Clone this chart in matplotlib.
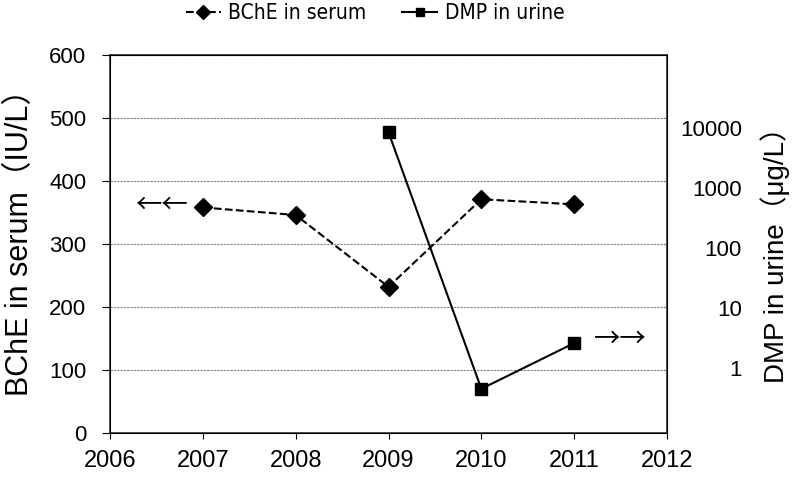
import numpy as np
import matplotlib.pyplot as plt
from matplotlib.ticker import FixedLocator, NullLocator

plt.rcParams['font.family'] = ['Liberation Sans', 'Noto Sans CJK JP', 'DejaVu Sans']

years = [2007, 2008, 2009, 2010, 2011]
bche = [358, 346, 232, 371, 363]
dmp_years = [2009, 2010, 2011]
dmp = [8500, 0.45, 2.6]

left_ticks = [0, 100, 200, 300, 400, 500, 600]
right_ticks = [1, 10, 100, 1000, 10000]
x_ticks = [2006, 2007, 2008, 2009, 2010, 2011, 2012]

fig = plt.figure(figsize=(7.93, 4.79), dpi=100)
ax = fig.add_axes([110/793, 46/479, 557/793, 378/479])

l1, = ax.plot(years, bche, '--', color='black', lw=1.5, marker='D', markersize=9,
              label='BChE in serum')
ax.set_xlim(2006, 2012)
ax.set_ylim(0, 600)
ax.set_xticks(x_ticks)
ax.set_yticks(left_ticks)
ax.yaxis.grid(True, linestyle=(0, (2, 1)), color='#808080', lw=0.8)
ax.set_axisbelow(True)
ax.tick_params(axis='y', labelsize=16, direction='out', length=6, pad=11)
ax.tick_params(axis='x', labelsize=17, direction='out', length=4, pad=8)
for s in ax.spines.values():
    s.set_color('#303030')
    s.set_linewidth(1.2)
ax.set_ylabel('BChE in serum（IU/L）', fontsize=22)
ax.yaxis.label.set_va('center')
ax.yaxis.set_label_coords(-0.162, 0.524)

ax2 = ax.twinx()
l2, = ax2.plot(dmp_years, dmp, '-', color='black', lw=1.5, marker='s', markersize=8,
               label='DMP in urine')
ax2.set_yscale('log')
ax2.set_ylim(10**-1.083, 10**5.217)
ax2.yaxis.set_major_locator(FixedLocator(right_ticks))
ax2.yaxis.set_minor_locator(NullLocator())
ax2.set_yticklabels([str(t) for t in right_ticks])
ax2.tick_params(axis='y', labelsize=16, length=0, pad=54)
for lab in ax2.get_yticklabels():
    lab.set_horizontalalignment('right')
ax2.set_ylabel('DMP in urine（μg/L）', fontsize=20)
ax2.yaxis.label.set_va('center')
ax2.yaxis.set_label_coords(1.194, 0.489)

ax.text(2006.55, 362, '←←', fontsize=19, ha='center', va='center',
        family='Noto Sans CJK JP')
ax.text(2011.5, 149, '→→', fontsize=19, ha='center', va='center',
        family='Noto Sans CJK JP')

fig.legend(handles=[l1, l2], loc='center', bbox_to_anchor=(375/793, 1 - 13/479),
           ncol=2, frameon=False, handlelength=1.7, handletextpad=0.35,
           columnspacing=1.7, markerscale=0.8,
           prop={'family': 'DejaVu Sans', 'stretch': 'condensed', 'size': 15})

fig.savefig('out.png', dpi=100)
